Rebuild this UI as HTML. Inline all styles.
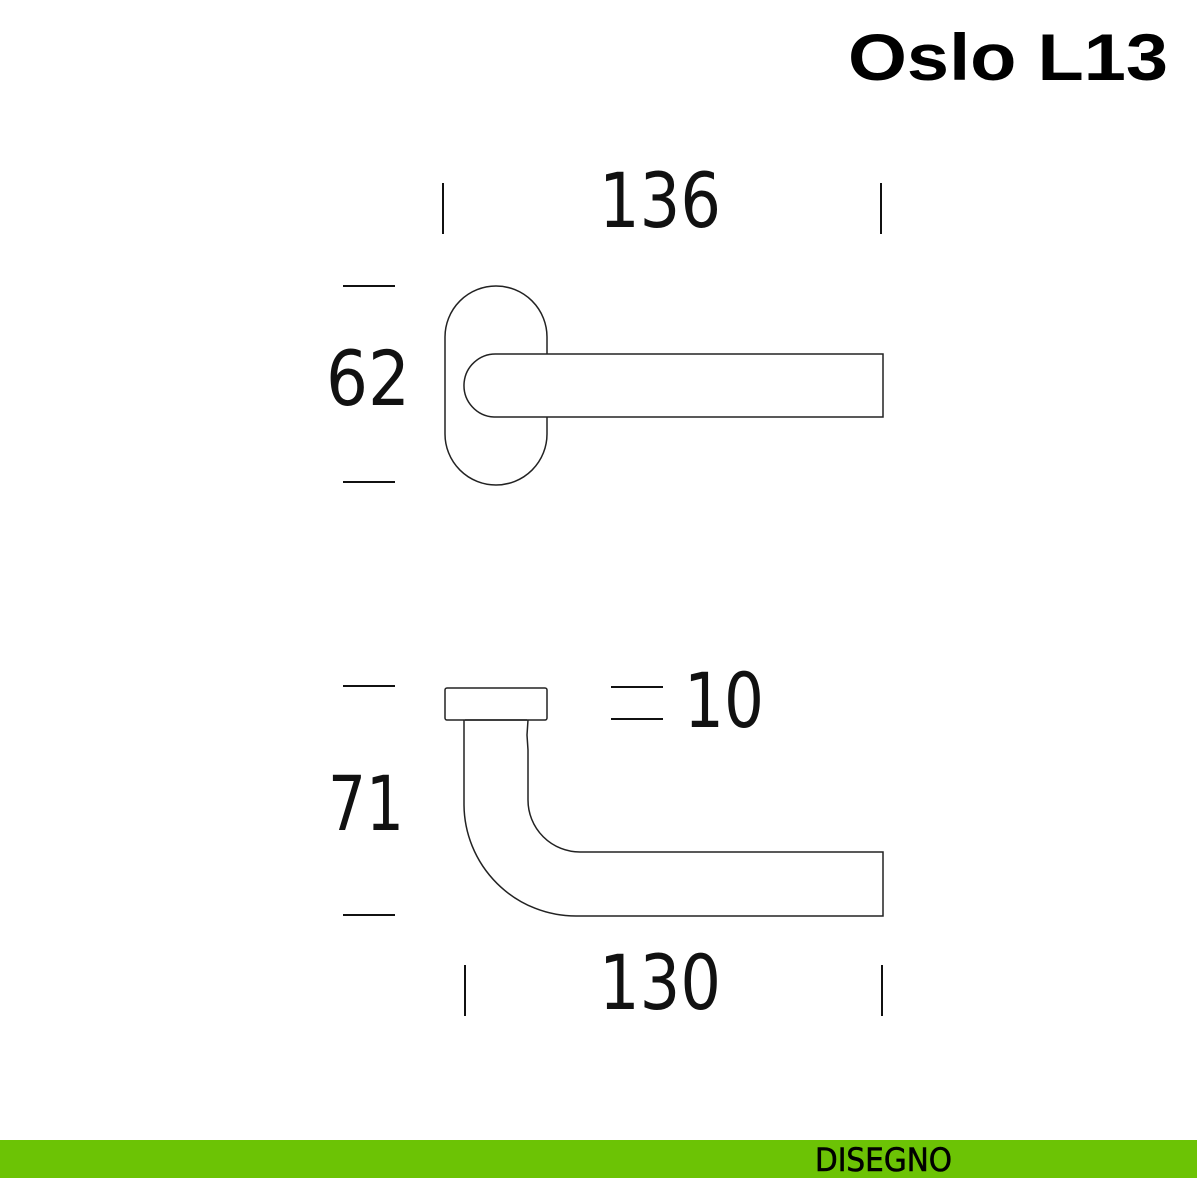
<!DOCTYPE html>
<html><head><meta charset="utf-8"><style>
html,body{margin:0;padding:0;background:#fff;}
svg{display:block;}
</style></head><body>
<svg width="1200" height="1200" viewBox="0 0 1200 1200" xmlns="http://www.w3.org/2000/svg">
<rect width="1200" height="1200" fill="#fff"/>
<text x="1168" y="80" text-anchor="end" font-family="Liberation Sans, sans-serif" font-weight="bold" font-size="66" fill="#000" textLength="320" lengthAdjust="spacingAndGlyphs">Oslo L13</text>
<g stroke="#111" stroke-width="2" fill="none">
<line x1="443" y1="183" x2="443" y2="234"/>
<line x1="881" y1="183" x2="881" y2="234"/>
<line x1="343" y1="286" x2="395" y2="286"/>
<line x1="343" y1="482" x2="395" y2="482"/>
<line x1="343" y1="686" x2="395" y2="686"/>
<line x1="343" y1="915" x2="395" y2="915"/>
<line x1="611" y1="687" x2="663" y2="687"/>
<line x1="611" y1="719" x2="663" y2="719"/>
<line x1="465" y1="965" x2="465" y2="1016"/>
<line x1="882" y1="965" x2="882" y2="1016"/>
</g>
<g stroke="#222" stroke-width="1.5" fill="none">
<path d="M547 354 L547 337 A51 51 0 0 0 445 337 L445 434 A51 51 0 0 0 547 434 L547 417"/>
<path d="M497 354 L883 354 L883 417 L494 417 A31.5 31.5 0 0 1 497 354 Z"/>
<rect x="445" y="688" width="102" height="32" rx="2"/>
<line x1="465" y1="720" x2="527" y2="720"/>
<path d="M464 720 L464 805 A112 112 0 0 0 576 916 L883 916 L883 852 L580 852 A52 52 0 0 1 528 800 L528 750 L527 735 L528 720"/>
</g>
<g font-family="DejaVu Sans, Liberation Sans, sans-serif" font-size="76" fill="#111">
<text x="660" y="227" text-anchor="middle" textLength="122" lengthAdjust="spacingAndGlyphs">136</text>
<text x="368" y="405" text-anchor="middle" textLength="84" lengthAdjust="spacingAndGlyphs">62</text>
<text x="724" y="727" text-anchor="middle" textLength="80" lengthAdjust="spacingAndGlyphs">10</text>
<text x="366" y="830" text-anchor="middle" textLength="76" lengthAdjust="spacingAndGlyphs">71</text>
<text x="660" y="1009" text-anchor="middle" textLength="122" lengthAdjust="spacingAndGlyphs">130</text>
</g>
<rect x="0" y="1140" width="1197" height="38" fill="#6cc305"/>
<text x="815" y="1171" font-family="DejaVu Sans, sans-serif" font-size="32" fill="#000" stroke="#000" stroke-width="0.6" textLength="137" lengthAdjust="spacingAndGlyphs">DISEGNO</text>
</svg>
</body></html>
